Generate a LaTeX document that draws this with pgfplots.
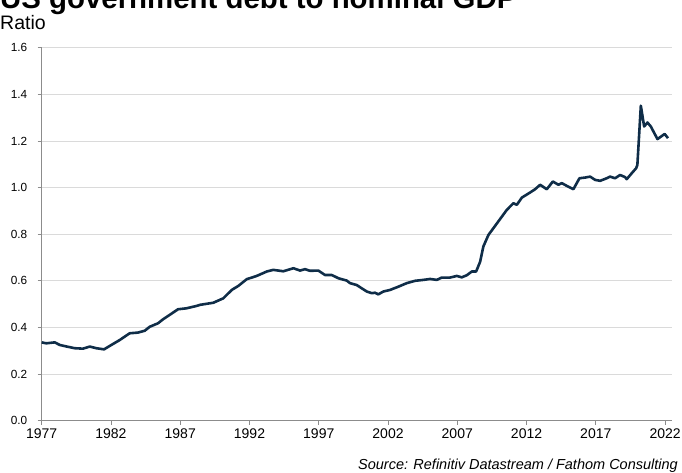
\documentclass[border=0pt]{standalone}
\usepackage{fontspec}
\setmainfont{Liberation Sans}
\usepackage{pgfplots}
\pgfplotsset{compat=1.18}
\definecolor{debtline}{HTML}{0F2D48}
\definecolor{gridgray}{HTML}{DADADA}
\definecolor{axisgray}{HTML}{8C8C8C}

\begin{document}
\begin{tikzpicture}
\useasboundingbox (0pt,0pt) rectangle (682pt,472pt);
\clip (0pt,0pt) rectangle (682pt,472pt);
% headings
\node[anchor=base west, inner sep=0pt, font=\fontsize{29.4}{31}\selectfont\bfseries]
  at (0pt,463pt) {US government debt to nominal GDP};
\node[anchor=base west, inner sep=0pt, font=\fontsize{19.5}{21}\selectfont]
  at (0pt,442pt) {Ratio};
\node[anchor=base east, inner sep=0pt, font=\fontsize{14.5}{16}\selectfont\itshape]
  at (678pt,3pt) {Source: Refinitiv Datastream / Fathom Consulting};
\begin{axis}[
  at={(41.7pt,51.3pt)}, anchor=south west, scale only axis,
  width=630.3pt, height=373pt,
  xmin=1977, xmax=2022.5, ymin=0, ymax=1.6,
  axis x line*=bottom, axis y line*=left,
  axis line style={axisgray, line width=0.8pt, -},
  tick align=outside, major tick length=4pt,
  tick style={axisgray, line width=0.8pt},
  xtick={1977,1982,1987,1992,1997,2002,2007,2012,2017,2022},
  xticklabels={1977,1982,1987,1992,1997,2002,2007,2012,2017,2022},
  ytick={0,0.2,0.4,0.6,0.8,1.0,1.2,1.4,1.6},
  ymajorgrids, grid style={gridgray, line width=0.9pt},
  xticklabel style={font=\fontsize{14}{16}\selectfont},
  yticklabel style={font=\fontsize{11.8}{13}\selectfont, xshift=-7pt},
  /pgf/number format/assume math mode=true,
  yticklabel={\pgfmathprintnumber[fixed, fixed zerofill, precision=1]{\tick}},
  clip=false,
]
\addplot[debtline, line width=2.6pt, line join=round] coordinates {
(1977.00,0.336) (1977.33,0.332) (1977.94,0.336) (1978.30,0.325) (1978.66,0.320)
(1979.38,0.311) (1979.98,0.309) (1980.47,0.318) (1980.94,0.311) (1981.50,0.306)
(1982.03,0.325) (1982.63,0.346) (1983.35,0.375) (1983.95,0.378) (1984.44,0.386)
(1984.80,0.403) (1985.40,0.418) (1985.76,0.435) (1986.24,0.454) (1986.84,0.478)
(1987.44,0.482) (1988.16,0.492) (1988.43,0.497) (1989.39,0.506) (1990.11,0.525)
(1990.72,0.561) (1991.19,0.578) (1991.80,0.607) (1992.52,0.621) (1993.25,0.640)
(1993.72,0.647) (1994.44,0.641) (1995.17,0.654) (1995.65,0.644) (1996.01,0.650)
(1996.37,0.643) (1996.97,0.644) (1997.45,0.625) (1997.94,0.625) (1998.42,0.611)
(1999.02,0.601) (1999.26,0.590) (1999.74,0.582) (2000.10,0.568) (2000.47,0.554)
(2000.83,0.547) (2001.06,0.549) (2001.30,0.542) (2001.66,0.554) (2002.15,0.561)
(2002.75,0.575) (2003.35,0.590) (2003.95,0.600) (2004.55,0.604) (2005.04,0.608)
(2005.52,0.604) (2005.88,0.614) (2006.48,0.614) (2006.96,0.621) (2007.32,0.615)
(2007.69,0.624) (2008.05,0.640) (2008.36,0.640) (2008.65,0.682) (2008.88,0.747)
(2009.25,0.797) (2009.61,0.826) (2010.09,0.865) (2010.57,0.904) (2011.05,0.933)
(2011.30,0.926) (2011.66,0.957) (2012.26,0.979) (2012.62,0.993) (2012.98,1.012)
(2013.46,0.993) (2013.90,1.026) (2014.30,1.012) (2014.55,1.019) (2014.91,1.007)
(2015.38,0.993) (2015.82,1.040) (2016.23,1.043) (2016.59,1.047) (2016.95,1.033)
(2017.31,1.029) (2017.79,1.040) (2018.03,1.047) (2018.39,1.040) (2018.75,1.054)
(2019.11,1.045) (2019.23,1.036) (2019.60,1.062) (2019.91,1.083) (2020.00,1.097)
(2020.25,1.351) (2020.49,1.262) (2020.73,1.279) (2020.97,1.262) (2021.45,1.208)
(2021.97,1.230) (2022.21,1.212)
};
\end{axis}
\end{tikzpicture}
\end{document}
